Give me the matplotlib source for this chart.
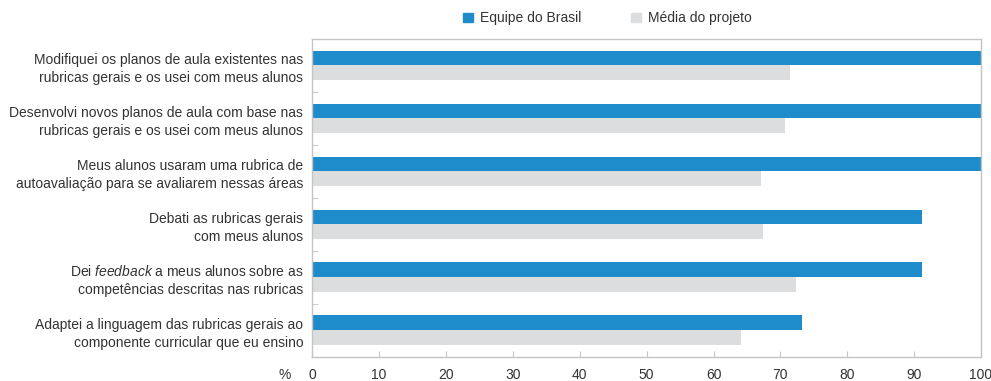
import numpy as np
import matplotlib.pyplot as plt
from matplotlib.patches import Patch

plt.rcParams['font.family'] = ['Liberation Sans', 'DejaVu Sans']
plt.rcParams['mathtext.fontset'] = 'custom'
plt.rcParams['mathtext.rm'] = 'Liberation Sans'
plt.rcParams['mathtext.it'] = 'Liberation Sans:italic'

# --- DATA ---
categories = [
    "Modifiquei os planos de aula existentes nas\nrubricas gerais e os usei com meus alunos",
    "Desenvolvi novos planos de aula com base nas\nrubricas gerais e os usei com meus alunos",
    "Meus alunos usaram uma rubrica de\nautoavaliação para se avaliarem nessas áreas",
    "Debati as rubricas gerais\ncom meus alunos",
    "Dei $\\mathit{feedback}$ a meus alunos sobre as\ncompetências descritas nas rubricas",
    "Adaptei a linguagem das rubricas gerais ao\ncomponente curricular que eu ensino",
]
brasil = [100, 100, 100, 91.2, 91.2, 73.2]
media = [71.4, 70.7, 67.1, 67.4, 72.3, 64.1]
xticks = [0, 10, 20, 30, 40, 50, 60, 70, 80, 90, 100]

BLUE = '#1e8bcb'
GREY = '#dcdddf'
SPINE = '#c4c4c4'
TEXT = '#333333'
FS = 10

fig = plt.figure(figsize=(9.91, 3.81), dpi=100)
ax = fig.add_axes([0.3151, 0.0638, 0.9899 - 0.3151, 0.8976 - 0.0638])

y = np.arange(len(categories))
h = 0.28
ax.barh(y - h / 2, brasil, height=h, color=BLUE, label='Equipe do Brasil')
ax.barh(y + h / 2, media, height=h, color=GREY, label='Média do projeto')

ax.set_xlim(0, 100)
ax.set_ylim(len(categories) - 0.5, -0.5)

# category labels, no ticks at centers
ax.set_yticks(y)
ax.set_yticklabels(categories, fontsize=FS, color=TEXT, linespacing=1.35)
ax.tick_params(axis='y', which='major', length=0, pad=6.5)
ax.set_yticks(np.arange(len(categories) - 1) + 0.5, minor=True)
ax.tick_params(axis='y', which='minor', direction='in', length=4, color=SPINE)

ax.set_xticks(xticks)
ax.tick_params(axis='x', direction='in', length=4, color=SPINE, pad=8,
               labelsize=FS, labelcolor=TEXT)
ax.text(-0.041, -0.037, '%', transform=ax.transAxes, ha='center', va='top',
        fontsize=FS, color=TEXT)

for s in ax.spines.values():
    s.set_color(SPINE)
    s.set_linewidth(1.0)

handles = [Patch(color=BLUE, label='Equipe do Brasil'),
           Patch(color=GREY, label='Média do projeto')]
fig.legend(handles=handles, loc='center', bbox_to_anchor=(0.613, 0.952), ncol=2,
           frameon=False, fontsize=FS, handlelength=0.7, handleheight=0.7,
           handletextpad=0.5, columnspacing=3.6, labelcolor=TEXT)

fig.savefig('out.png', dpi=100)
